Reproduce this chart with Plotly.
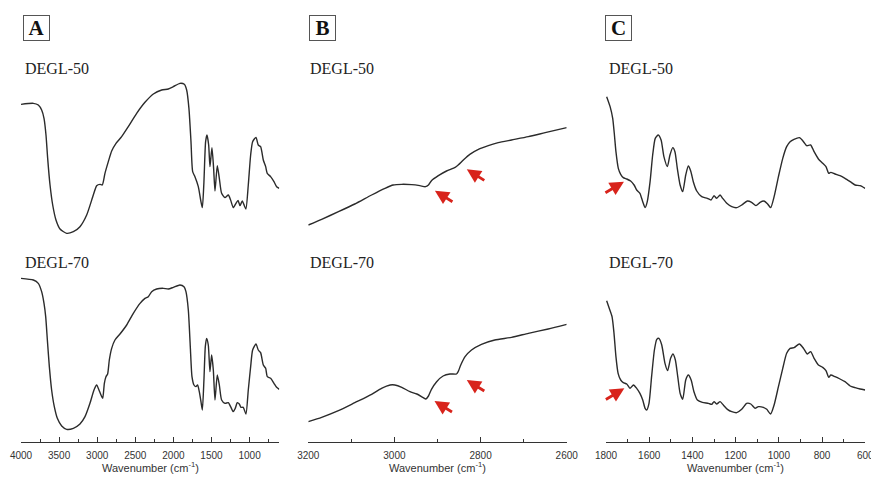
import plotly.graph_objects as go

W, H = 871, 481

# ---------------- data (transmittance, arbitrary units) ----------------
# Panel A: full range spectra
a50_wn = [4000, 3838, 3773, 3729, 3698, 3672, 3650, 3619, 3584, 3541,
          3488, 3401, 3313, 3226, 3138, 3051, 3007, 2963, 2933, 2898,
          2854, 2810, 2753, 2679, 2592, 2482, 2373, 2263, 2154, 2067,
          2001, 1914, 1857, 1826, 1796, 1769, 1747, 1717, 1673, 1642,
          1620, 1599, 1577, 1559, 1537, 1520, 1494, 1472, 1454, 1424,
          1397, 1367, 1323, 1279, 1249, 1214, 1179, 1152, 1126, 1096,
          1069, 1048, 1017, 986, 960, 916, 886, 855, 820, 789,
          768, 724, 680, 645, 610]
a50_t = [412, 415, 410, 395, 370, 320, 250, 170, 110, 65,
         38, 25, 30, 45, 80, 140, 168, 172, 170, 205,
         240, 272, 295, 315, 345, 385, 418, 443, 455, 458,
         465, 475, 472, 455, 400, 300, 210, 195, 165, 125,
         102, 180, 300, 320, 290, 225, 282, 220, 152, 228,
         190, 145, 132, 140, 125, 102, 115, 124, 108, 122,
         108, 98, 170, 260, 300, 313, 290, 285, 245, 225,
         205, 195, 180, 165, 160]

a70_wn = [4000, 3838, 3773, 3729, 3698, 3676, 3654, 3628, 3598, 3563,
          3523, 3466, 3401, 3313, 3226, 3160, 3095, 3042, 3007, 2977,
          2950, 2928, 2906, 2885, 2863, 2841, 2810, 2767, 2701, 2613,
          2526, 2438, 2373, 2329, 2285, 2220, 2132, 2067, 2001, 1914,
          1861, 1835, 1804, 1778, 1756, 1730, 1704, 1682, 1660, 1638,
          1620, 1599, 1581, 1564, 1542, 1520, 1498, 1476, 1454, 1424,
          1397, 1367, 1323, 1279, 1249, 1214, 1188, 1161, 1135, 1113,
          1083, 1048, 1017, 986, 960, 916, 886, 855, 820, 789,
          768, 724, 680, 645, 610]
a70_t = [475, 470, 460, 435, 400, 360, 290, 210, 140, 90,
         55, 32, 22, 25, 38, 60, 100, 140, 155, 140,
         125, 115, 160, 180, 188, 230, 265, 290, 308, 335,
         370, 400, 415, 420, 435, 443, 445, 443, 448, 455,
         450, 435, 380, 270, 180, 155, 150, 155, 135, 105,
         80, 170, 270, 295, 275, 195, 245, 200, 110, 185,
         155, 110, 100, 102, 90, 75, 85, 102, 98, 88,
         88, 68, 140, 210, 260, 278, 260, 252, 215, 205,
         180, 175, 160, 148, 142]

# Panel B: 3200-2600 cm-1
b50_wn = [3200, 3169, 3130, 3092, 3053, 3022, 3003, 2983, 2960, 2941,
          2928, 2921, 2914, 2898, 2879, 2859, 2852, 2840, 2825, 2805,
          2782, 2759, 2728, 2689, 2650, 2600]
b50_t = [155, 172, 195, 218, 245, 265, 275, 277, 276, 273,
         270, 275, 288, 303, 317, 328, 335, 350, 367, 382,
         393, 402, 410, 420, 432, 447]

b70_wn = [3200, 3169, 3130, 3092, 3053, 3030, 3010, 2999, 2983, 2964,
          2948, 2933, 2927, 2921, 2914, 2902, 2887, 2871, 2856, 2852,
          2846, 2836, 2821, 2798, 2767, 2728, 2689, 2643, 2600]
b70_t = [135, 148, 168, 192, 217, 235, 245, 245, 238, 225,
         218, 207, 203, 212, 232, 255, 272, 278, 278, 285,
         305, 330, 350, 367, 380, 388, 400, 413, 427]

# Panel C: 1800-600 cm-1
c50_wn = [1797, 1781, 1769, 1761, 1754, 1743, 1732, 1720, 1704, 1686,
          1670, 1658, 1643, 1630, 1619, 1609, 1596, 1584, 1572, 1558,
          1545, 1532, 1516, 1504, 1491, 1481, 1470, 1457, 1445, 1431,
          1419, 1408, 1396, 1380, 1357, 1331, 1314, 1300, 1288, 1272,
          1260, 1241, 1218, 1195, 1172, 1146, 1126, 1106, 1087, 1069,
          1053, 1038, 1022, 1002, 982, 964, 948, 930, 905, 886,
          871, 853, 837, 817, 797, 782, 769, 760, 740, 717,
          694, 670, 647, 624, 601]
c50_t = [465, 435, 400, 350, 300, 250, 232, 222, 218, 212,
         200, 185, 175, 150, 132, 150, 210, 290, 340, 350,
         335, 285, 255, 290, 312, 300, 250, 200, 180, 230,
         257, 242, 210, 182, 165, 160, 155, 168, 160, 170,
         160, 145, 135, 132, 140, 152, 148, 138, 148, 152,
         144, 132, 165, 225, 280, 315, 330, 337, 342, 330,
         318, 320, 300, 278, 265, 255, 235, 238, 233, 228,
         220, 210, 200, 198, 190]

c70_wn = [1797, 1785, 1772, 1763, 1754, 1744, 1732, 1720, 1704, 1689,
          1673, 1658, 1643, 1630, 1619, 1612, 1601, 1589, 1576, 1565,
          1555, 1542, 1527, 1515, 1501, 1490, 1479, 1468, 1457, 1445,
          1431, 1419, 1406, 1393, 1377, 1354, 1326, 1311, 1300, 1288,
          1272, 1257, 1238, 1218, 1195, 1172, 1149, 1130, 1110, 1095,
          1072, 1056, 1038, 1022, 1002, 982, 964, 948, 930, 905,
          886, 868, 853, 837, 817, 797, 782, 769, 760, 740,
          717, 694, 670, 647, 624, 601]
c70_t = [438, 415, 390, 340, 270, 220, 200, 192, 188, 175,
         185, 175, 160, 140, 115, 110, 130, 210, 290, 322,
         325, 305, 250, 228, 265, 278, 260, 210, 160, 142,
         200, 215, 200, 165, 140, 133, 130, 127, 135, 128,
         135, 125, 112, 105, 102, 112, 130, 128, 115, 120,
         118, 112, 98, 125, 180, 235, 280, 295, 297, 308,
         295, 278, 285, 265, 245, 238, 228, 208, 215, 210,
         203, 195, 182, 177, 173, 170]

# arrow heads (wavenumber, transmittance)
b50_arrows = [(2906, 258), (2832, 322)]
b70_arrows = [(2907, 197), (2832, 260)]
c50_arrow = (1717, 210)
c70_arrow = (1715, 175)

panel_letters = ["A", "B", "C"]
sample_names = ["DEGL-50", "DEGL-70"]
x_title = "Wavenumber (cm<sup>-1</sup>)"

# ---------------- layout helpers ----------------
def px_x(p):
    return p / W

def px_y(p):
    return 1 - p / H

LINE = dict(color="#2b2b2b", width=1.4)
SERIF = "Liberation Serif, Times New Roman, serif"
SANS = "Liberation Sans, Arial, sans-serif"

fig = go.Figure()

series = [
    (a50_wn, a50_t, "x", "y"), (a70_wn, a70_t, "x", "y2"),
    (b50_wn, b50_t, "x2", "y3"), (b70_wn, b70_t, "x2", "y4"),
    (c50_wn, c50_t, "x3", "y5"), (c70_wn, c70_t, "x3", "y6"),
]
for wn, t, xa, ya in series:
    fig.add_trace(go.Scatter(x=wn, y=t, xaxis=xa, yaxis=ya, mode="lines",
                             line=dict(shape="spline", smoothing=0.6, **LINE),
                             showlegend=False, hoverinfo="skip"))

x_domains = [(21, 279.3), (308.3, 566.7), (606, 865.3)]
x_ranges = [[4000, 610], [3200, 2600], [1800, 600]]
x_dticks = [500, 200, 200]
x_minor = [250, 100, 100]
axis_y_px = 442

top_dom = (55, 245)
bot_dom = (250, axis_y_px)
y_ranges = [[-10, 560], [-16, 560], [95, 665], [74, 650], [20, 590], [14, 590]]

layout = dict(width=W, height=H, margin=dict(l=0, r=0, t=0, b=0, pad=0, autoexpand=False),
              autosize=False,
              paper_bgcolor="white", plot_bgcolor="white", showlegend=False)

for i in range(3):
    key = "xaxis" if i == 0 else f"xaxis{i+1}"
    d0, d1 = x_domains[i]
    layout[key] = dict(
        domain=[px_x(d0), px_x(d1)], range=x_ranges[i], anchor="free",
        position=px_y(axis_y_px), showgrid=False, zeroline=False,
        automargin=False, ticklabeloverflow="allow",
        showline=True, linecolor="#333", linewidth=1,
        ticks="inside", ticklen=5, tickcolor="#333", tickwidth=1,
        tick0=0, dtick=x_dticks[i],
        minor=dict(ticks="inside", ticklen=3, dtick=x_minor[i], tick0=0,
                   tickcolor="#333", showgrid=False),
        tickfont=dict(family=SANS, size=10, color="#333"),
        ticklabelstandoff=4,
    )

for j in range(6):
    key = "yaxis" if j == 0 else f"yaxis{j+1}"
    dom = top_dom if j % 2 == 0 else bot_dom
    col = j // 2
    layout[key] = dict(domain=[px_y(dom[1]), px_y(dom[0])], range=y_ranges[j],
                       anchor="x" if col == 0 else f"x{col+1}", automargin=False,
                       visible=False, showgrid=False, zeroline=False)

fig.update_layout(**layout)

ann = []
# panel letters
letter_centres = [(36.5, 28), (322, 28), (618.5, 28)]
for letter, (cx, cy) in zip(panel_letters, letter_centres):
    ann.append(dict(text=f"<b>{letter}</b>", x=px_x(cx), y=px_y(cy),
                    xref="paper", yref="paper", showarrow=False,
                    font=dict(family=SERIF, size=21, color="#111"),
                    bordercolor="#555", borderwidth=1, borderpad=0,
                    width=25, height=24, xanchor="center", yanchor="middle"))
# sample names
name_x = [23, 308, 607]
for nx in name_x:
    for name, ny in zip(sample_names, [68, 262]):
        ann.append(dict(text=name, x=px_x(nx), y=px_y(ny), xref="paper", yref="paper",
                        showarrow=False, xanchor="left", yanchor="middle",
                        font=dict(family=SERIF, size=16, color="#222")))
# x titles
for d0, d1 in x_domains:
    ann.append(dict(text=x_title, x=px_x((d0 + d1) / 2), y=px_y(467),
                    xref="paper", yref="paper", showarrow=False,
                    xanchor="center", yanchor="middle",
                    font=dict(family=SANS, size=11, color="#333")))

RED = "#d8231b"
def arrow(x, y, xr, yr, ax, ay):
    return dict(x=x, y=y, xref=xr, yref=yr, ax=ax, ay=ay, text="",
                showarrow=True, arrowhead=2, arrowsize=1.0, arrowwidth=2.8,
                arrowcolor=RED, standoff=0)

for (x, y) in b50_arrows:
    ann.append(arrow(x, y, "x2", "y3", 19, 12))
for (x, y) in b70_arrows:
    ann.append(arrow(x, y, "x2", "y4", 19, 12))
ann.append(arrow(c50_arrow[0], c50_arrow[1], "x3", "y5", -20, 12))
ann.append(arrow(c70_arrow[0], c70_arrow[1], "x3", "y6", -20, 12))

fig.update_layout(annotations=ann)
fig.write_html("out.html", config={"displayModeBar": False},
               post_script="document.body.style.margin='0px';document.body.style.overflow='hidden';")
